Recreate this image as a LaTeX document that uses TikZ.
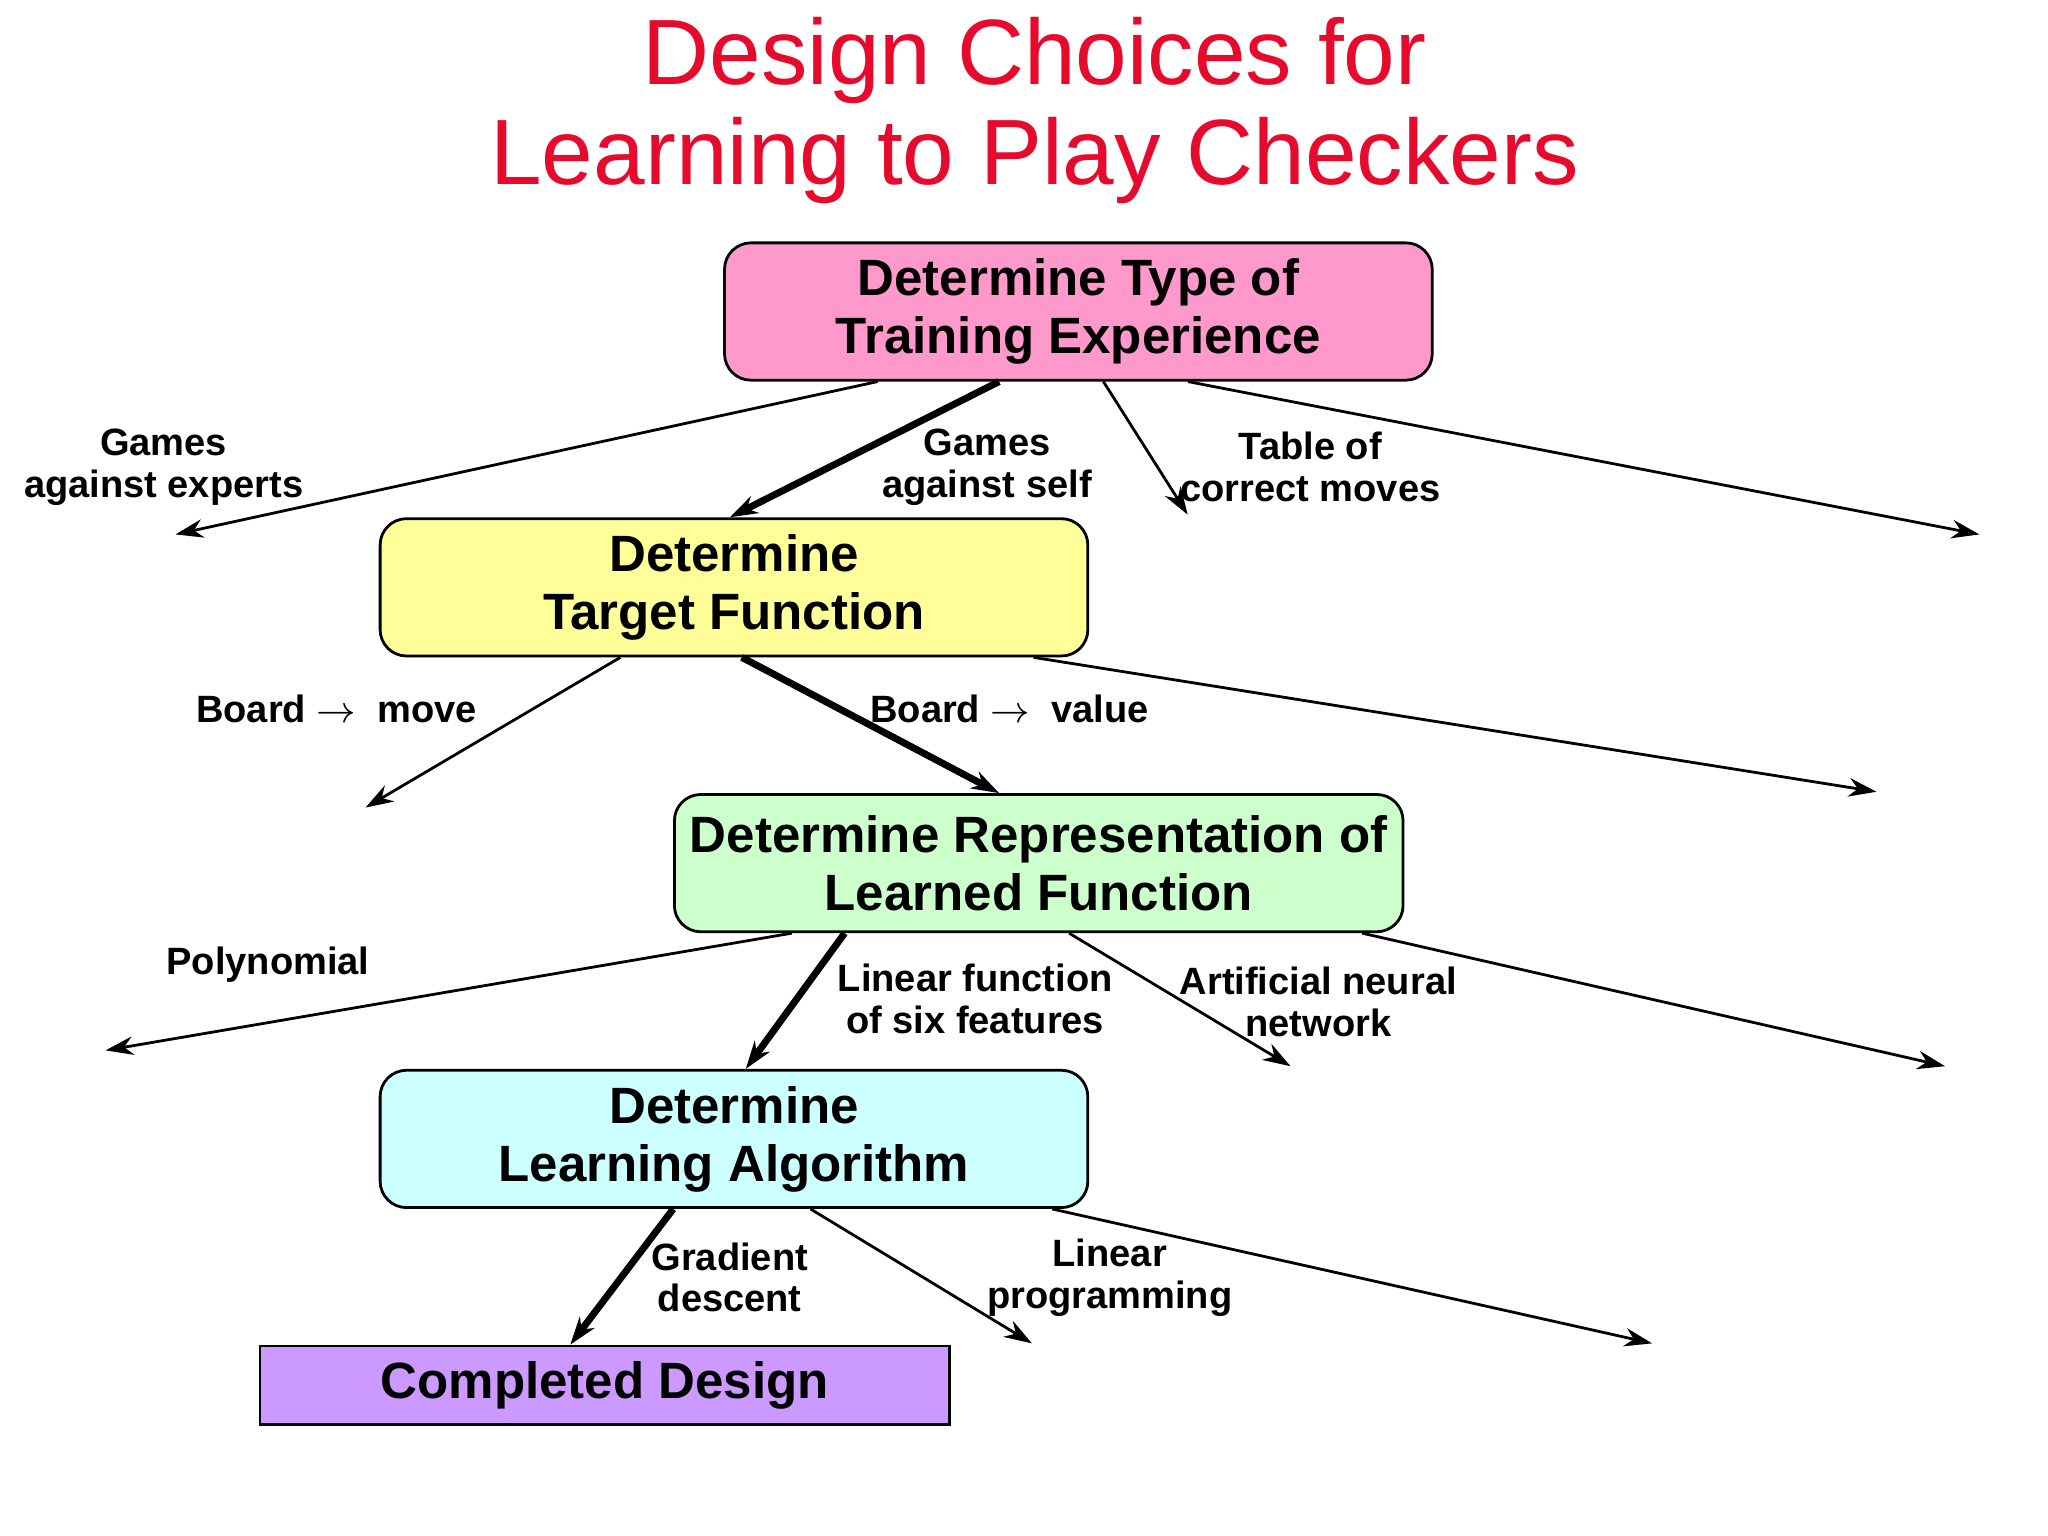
\documentclass[tikz,border=0pt]{standalone}
\usepackage{fontspec}
\setmainfont{Liberation Sans}
\usetikzlibrary{arrows.meta}
\definecolor{ttl}{RGB}{230,10,45}
\definecolor{cpink}{RGB}{255,153,204}
\definecolor{cyel}{RGB}{255,255,153}
\definecolor{cgrn}{RGB}{204,255,204}
\definecolor{ccyan}{RGB}{204,255,255}
\definecolor{cpur}{RGB}{204,153,255}
\begin{document}
\begin{tikzpicture}[x=0.01cm,y=-0.01cm,
 stage/.style={draw,line width=0.6pt,rounded corners=0.2cm,minimum width=5.36cm,minimum height=1.04cm,align=center,font=\fontsize{11}{12.5}\selectfont\bfseries,anchor=north west},
 lab/.style={align=center,font=\fontsize{8.2}{9}\selectfont\bfseries},
 arr/.style={-{Stealth[length=6pt,width=4pt]},line width=0.6pt},
 thick arr/.style={-{Stealth[length=6pt,width=4pt]},line width=1.5pt}]
\useasboundingbox (0,0) rectangle (1552,1164);
\node[text=ttl,align=center,font=\fontsize{20}{21.5}\selectfont] (title) at (784,84) {Design Choices for\\Learning to Play Checkers};
\node[stage,fill=cpink] (b1) at (548,183) {Determine Type of\\Training Experience};
\node[stage,fill=cyel] (b2) at (287,392) {Determine\\Target Function};
\node[stage,fill=cgrn] (b3) at (510,601) {Determine Representation of\\Learned Function};
\node[stage,fill=ccyan] (b4) at (287,810) {Determine\\Learning Algorithm};
\node[draw,line width=0.6pt,fill=cpur,minimum width=5.22cm,minimum height=0.52cm,anchor=north west,font=\fontsize{11}{12.5}\selectfont\bfseries] (b5) at (196,1019) {Completed Design};
\coordinate (e1) at (133,405); \coordinate (e2) at (900,390); \coordinate (e3) at (1500,405);
\coordinate (f1) at (277,612); \coordinate (f2) at (1422,600);
\coordinate (g1) at (80,796); \coordinate (g2) at (978,808); \coordinate (g3) at (1474,808);
\coordinate (h1) at (782,1018); \coordinate (h2) at (1252,1018);
\draw[arr] (b1.south west)++(117,0) -- (e1);
\draw[thick arr] ([xshift=2.09cm]b1.south west) -- ([xshift=2.66cm]b2.north west);
\draw[arr] ([xshift=2.88cm]b1.south west) -- (e2);
\draw[arr] ([xshift=3.52cm]b1.south west) -- (e3);
\draw[arr] ([xshift=1.83cm]b2.south west) -- (f1);
\draw[thick arr] ([xshift=2.75cm]b2.south west) -- ([xshift=2.47cm]b3.north west);
\draw[arr] ([xshift=4.96cm]b2.south west) -- (f2);
\draw[arr] ([xshift=0.9cm]b3.south west) -- (g1);
\draw[thick arr] ([xshift=1.3cm]b3.south west) -- ([xshift=2.78cm]b4.north west);
\draw[arr] ([xshift=3.0cm]b3.south west) -- (g2);
\draw[arr] ([xshift=5.22cm]b3.south west) -- (g3);
\draw[thick arr] ([xshift=2.23cm]b4.south west) -- ([xshift=2.36cm]b5.north west);
\draw[arr] ([xshift=3.27cm]b4.south west) -- (h1);
\draw[arr] ([xshift=5.1cm]b4.south west) -- (h2);
\node[lab] (l1) at (124,354) {Games\\against experts};
\node[lab] (l2) at (748,354) {Games\\against self};
\node[lab] (l3) at (993,354) {Table of\\correct moves};
\node[lab] (l4) at (255,537) {Board $\rightarrow$\ \ move};
\node[lab] (l5) at (765,537) {Board $\rightarrow$\ \ value};
\node[lab] (l6) at (203,731) {Polynomial};
\node[lab] (l7) at (739,757) {Linear function\\of six features};
\node[lab] (l8) at (999,759) {Artificial neural\\network};
\node[lab] (l9) at (553,968) {Gradient\\descent};
\node[lab] (l10) at (841,968) {Linear\\programming};
\end{tikzpicture}
\end{document}
